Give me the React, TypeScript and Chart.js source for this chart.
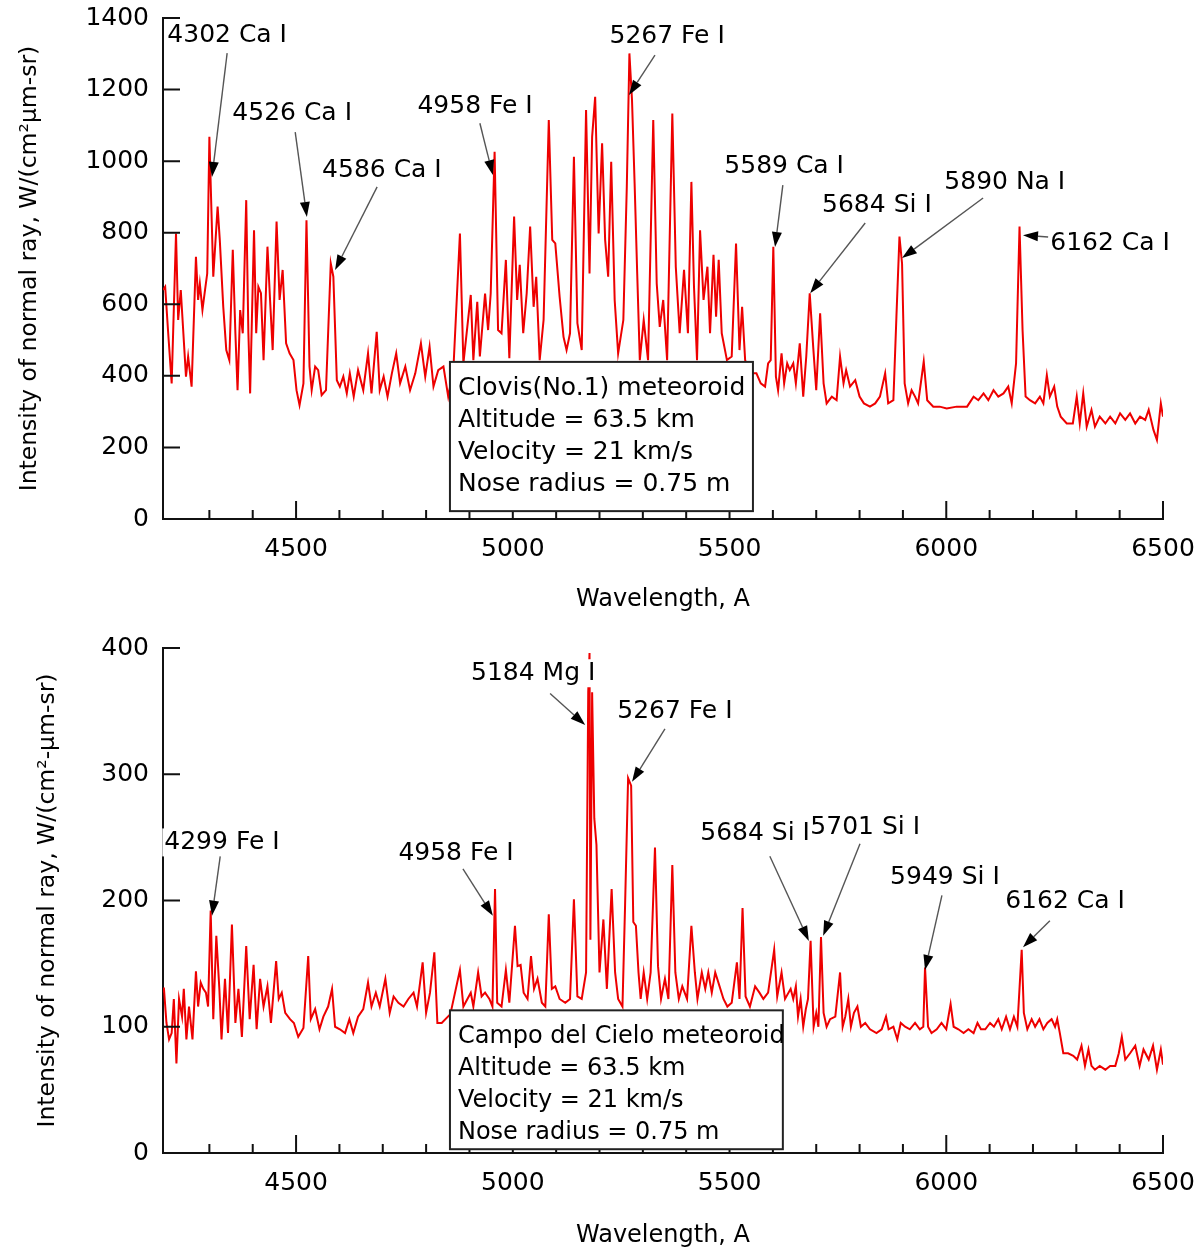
import React, { useEffect, useRef } from 'react';
import { Chart, registerables } from 'chart.js';

Chart.register(...registerables);

const FONT = '"DejaVu Sans", sans-serif';

// upper plot: Clovis (No.1) spectrum
const clovisWavelength = [
  4193, 4198, 4205, 4213, 4223, 4228, 4234, 4240, 4246, 4251, 4259, 4269, 4274, 4278, 4284, 4290,
  4295, 4300, 4309, 4319, 4324, 4332, 4339, 4346, 4354, 4360, 4365, 4371, 4377, 4385, 4390, 4394,
  4403, 4408, 4413, 4419, 4425, 4434, 4440, 4446, 4455, 4462, 4469, 4477, 4485, 4494, 4501, 4508,
  4517, 4524, 4531, 4536, 4544, 4551, 4559, 4569, 4580, 4586, 4594, 4601, 4609, 4617, 4624, 4633,
  4643, 4655, 4666, 4674, 4686, 4693, 4702, 4711, 4721, 4731, 4740, 4752, 4763, 4775, 4788, 4798,
  4808, 4817, 4828, 4840, 4851, 4863, 4878, 4886, 4903, 4909, 4918, 4924, 4936, 4943, 4949, 4958,
  4966, 4974, 4984, 4992, 5003, 5010, 5016, 5024, 5032, 5040, 5048, 5054, 5062, 5071, 5083, 5091,
  5098, 5108, 5117, 5124, 5132, 5141, 5149, 5159, 5169, 5177, 5183, 5190, 5198, 5206, 5213, 5220,
  5227, 5235, 5243, 5255, 5263, 5269, 5275, 5281, 5287, 5293, 5302, 5312, 5324, 5332, 5339, 5347,
  5356, 5368, 5376, 5385, 5395, 5404, 5412, 5418, 5425, 5432, 5440, 5449, 5455, 5463, 5469, 5475,
  5482, 5494, 5505, 5515, 5523, 5529, 5536, 5547, 5562, 5572, 5582, 5589, 5595, 5601, 5607, 5612,
  5620, 5626, 5633, 5639, 5647, 5653, 5662, 5670, 5677, 5685, 5693, 5700, 5709, 5717, 5724, 5736,
  5747, 5755, 5763, 5769, 5778, 5790, 5800, 5810, 5824, 5836, 5847, 5859, 5866, 5878, 5885, 5892,
  5898, 5904, 5912, 5920, 5928, 5935, 5948, 5956, 5970, 5985, 6001, 6024, 6048, 6063, 6074, 6086,
  6097, 6109, 6120, 6132, 6143, 6151, 6161, 6169, 6176, 6183, 6193, 6205, 6216, 6224, 6232, 6239,
  6249, 6256, 6264, 6278, 6292, 6301, 6308, 6316, 6324, 6335, 6343, 6354, 6367, 6378, 6390, 6401,
  6413, 6424, 6436, 6447, 6459, 6467, 6478, 6486, 6495, 6500,
];
const clovisIntensity = [
  640, 649, 519, 379, 798, 556, 640, 519, 398, 454, 370, 733, 612, 658, 584, 640,
  686, 1068, 677, 873, 780, 593, 472, 444, 752, 519, 360, 584, 519, 891, 519, 351,
  807, 519, 649, 631, 444, 761, 612, 472, 831, 612, 696, 491, 463, 444, 360, 318,
  379, 835, 426, 360, 426, 416, 346, 360, 714, 677, 388, 370, 398, 351, 407, 342,
  416, 360, 463, 351, 523, 360, 398, 342, 407, 463, 379, 426, 360, 407, 491, 398,
  481, 370, 416, 426, 342, 420, 798, 435, 626, 444, 607, 454, 630, 528, 630, 1026,
  528, 519, 724, 449, 845, 612, 710, 519, 630, 817, 593, 677, 444, 556, 1115, 780,
  770, 621, 509, 472, 519, 1012, 547, 472, 1143, 686, 1068, 1180, 798, 1050, 780, 677,
  998, 612, 463, 556, 929, 1301, 1171, 938, 686, 444, 556, 444, 1115, 658, 537, 612,
  444, 1133, 705, 519, 696, 519, 942, 649, 444, 807, 612, 705, 519, 738, 565, 724,
  519, 444, 454, 770, 472, 593, 444, 407, 407, 379, 370, 435, 444, 761, 398, 360,
  463, 379, 435, 416, 435, 379, 491, 342, 454, 631, 481, 360, 575, 379, 323, 342,
  332, 454, 379, 416, 370, 388, 342, 323, 314, 323, 342, 407, 323, 332, 565, 789,
  714, 379, 323, 360, 342, 323, 440, 332, 314, 314, 309, 314, 314, 342, 332, 351,
  332, 360, 342, 351, 370, 323, 435, 817, 528, 342, 332, 323, 342, 323, 402, 342,
  370, 314, 286, 267, 267, 342, 267, 351, 258, 305, 258, 286, 267, 286, 267, 295,
  277, 295, 267, 286, 277, 305, 249, 221, 323, 286,
];

// lower plot: Campo del Cielo spectrum
const campoWavelength = [
  4193, 4195, 4201, 4207, 4213, 4218, 4224, 4230, 4237, 4241, 4247, 4253, 4261, 4269, 4274, 4280,
  4286, 4292, 4297, 4303, 4309, 4316, 4323, 4328, 4336, 4343, 4352, 4360, 4367, 4375, 4385, 4393,
  4402, 4409, 4417, 4425, 4434, 4442, 4454, 4460, 4467, 4475, 4486, 4495, 4505, 4517, 4528, 4534,
  4544, 4554, 4563, 4574, 4583, 4590, 4601, 4613, 4623, 4632, 4643, 4655, 4666, 4674, 4684, 4693,
  4706, 4716, 4725, 4736, 4748, 4759, 4771, 4779, 4792, 4800, 4809, 4819, 4826, 4836, 4856, 4878,
  4886, 4903, 4909, 4920, 4928, 4936, 4946, 4953, 4959, 4964, 4974, 4984, 4992, 5005, 5011, 5018,
  5025, 5034, 5042, 5049, 5057, 5067, 5075, 5083, 5090, 5098, 5108, 5121, 5132, 5141, 5149, 5159,
  5169, 5174, 5177, 5179, 5183, 5188, 5193, 5200, 5209, 5217, 5228, 5236, 5243, 5253, 5259, 5266,
  5273, 5278, 5284, 5290, 5295, 5302, 5310, 5318, 5328, 5335, 5342, 5351, 5359, 5368, 5375, 5383,
  5391, 5402, 5412, 5420, 5426, 5436, 5444, 5451, 5459, 5467, 5477, 5486, 5495, 5505, 5517, 5523,
  5530, 5537, 5547, 5559, 5569, 5578, 5589, 5603, 5610, 5620, 5628, 5641, 5647, 5653, 5658, 5664,
  5670, 5676, 5681, 5687, 5694, 5700, 5705, 5711, 5717, 5724, 5732, 5744, 5755, 5761, 5767, 5774,
  5780, 5787, 5795, 5803, 5813, 5824, 5839, 5851, 5861, 5867, 5878, 5887, 5895, 5905, 5916, 5928,
  5939, 5947, 5951, 5958, 5966, 5978, 5989, 6000, 6010, 6017, 6028, 6040, 6051, 6063, 6072, 6080,
  6090, 6101, 6110, 6120, 6128, 6138, 6147, 6156, 6164, 6174, 6179, 6187, 6197, 6205, 6215, 6224,
  6233, 6243, 6251, 6256, 6262, 6270, 6281, 6293, 6302, 6312, 6320, 6328, 6335, 6343, 6354, 6367,
  6378, 6390, 6398, 6405, 6413, 6424, 6436, 6446, 6455, 6467, 6477, 6486, 6495, 6500,
];
const campoIntensity = [
  128, 131, 103, 90, 95, 122, 71, 122, 108, 130, 90, 116, 90, 144, 116, 135,
  130, 127, 116, 192, 106, 172, 130, 90, 138, 95, 181, 103, 130, 92, 164, 106,
  149, 98, 138, 116, 132, 103, 152, 122, 127, 111, 106, 103, 92, 99, 156, 106,
  114, 98, 108, 116, 130, 100, 98, 95, 106, 95, 108, 114, 135, 116, 127, 116,
  138, 111, 124, 119, 116, 122, 127, 116, 151, 111, 127, 159, 103, 103, 110, 145,
  116, 127, 116, 143, 124, 127, 122, 116, 209, 119, 116, 145, 119, 180, 148, 149,
  127, 122, 156, 130, 138, 119, 116, 189, 130, 132, 122, 119, 122, 201, 124, 122,
  143, 365, 396, 169, 365, 265, 244, 143, 185, 130, 209, 143, 122, 116, 196, 297,
  291, 183, 180, 143, 122, 143, 122, 143, 242, 148, 122, 138, 122, 228, 143, 122,
  132, 122, 180, 143, 122, 143, 130, 143, 127, 143, 132, 122, 116, 119, 151, 122,
  194, 124, 116, 132, 127, 122, 127, 161, 124, 143, 122, 130, 122, 132, 108, 122,
  100, 114, 122, 168, 100, 111, 100, 171, 111, 100, 106, 108, 143, 100, 108, 122,
  100, 111, 116, 100, 103, 98, 95, 98, 108, 98, 100, 90, 103, 100, 98, 103,
  98, 100, 147, 100, 95, 98, 103, 98, 118, 100, 98, 95, 98, 95, 103, 98,
  98, 103, 100, 106, 98, 108, 98, 108, 100, 161, 111, 98, 106, 100, 106, 98,
  103, 106, 100, 106, 95, 79, 79, 77, 74, 85, 69, 82, 69, 66, 69, 66,
  69, 69, 79, 92, 74, 79, 85, 69, 82, 74, 85, 66, 82, 70,
];

const wavelengthTicks = [4500, 5000, 5500, 6000, 6500];
const clovisTicks = [0, 200, 400, 600, 800, 1000, 1200, 1400];
const campoTicks = [0, 100, 200, 300, 400];

const clovisInfo = ['Clovis(No.1) meteoroid', 'Altitude = 63.5 km', 'Velocity = 21 km/s', 'Nose radius = 0.75 m'];
const campoInfo = ['Campo del Cielo meteoroid', 'Altitude = 63.5 km', 'Velocity = 21 km/s', 'Nose radius = 0.75 m'];

interface Callout {
  text: string;
  at: [number, number];
  from: [number, number];
  to: [number, number];
}

interface InfoBox {
  lines: string[];
  left: number;
  right: number;
  top: number;
  bottom: number;
  fontSize: number;
}

// label centre, arrow start and arrow tip, all in (wavelength, intensity)
const clovisCallouts: Callout[] = [
  { text: '4302 Ca I', at: [4341, 1350], from: [4341, 1302], to: [4306, 956] },
  { text: '4526 Ca I', at: [4491, 1132], from: [4498, 1081], to: [4525, 844] },
  { text: '4586 Ca I', at: [4698, 975], from: [4687, 928], to: [4590, 696] },
  { text: '4958 Fe I', at: [4913, 1154], from: [4924, 1106], to: [4954, 961] },
  { text: '5267 Fe I', at: [5356, 1347], from: [5328, 1296], to: [5268, 1185] },
  { text: '5589 Ca I', at: [5626, 986], from: [5623, 933], to: [5605, 760] },
  { text: '5684 Si I', at: [5840, 877], from: [5813, 827], to: [5686, 631] },
  { text: '5890 Na I', at: [6135, 939], from: [6085, 897], to: [5898, 729] },
  { text: '6162 Ca I', at: [6378, 771], from: [6235, 788], to: [6177, 793] },
];

const campoCallouts: Callout[] = [
  { text: '4299 Fe I', at: [4329, 246], from: [4325, 235], to: [4306, 188] },
  { text: '4958 Fe I', at: [4869, 237], from: [4885, 225], to: [4954, 188] },
  { text: '5184 Mg I', at: [5047, 380], from: [5086, 364], to: [5167, 339] },
  { text: '5267 Fe I', at: [5374, 350], from: [5351, 336], to: [5275, 294] },
  { text: '5684 Si I', at: [5559, 253], from: [5593, 235], to: [5683, 168] },
  { text: '5701 Si I', at: [5813, 258], from: [5801, 245], to: [5716, 172] },
  { text: '5949 Si I', at: [5997, 218], from: [5990, 204], to: [5951, 145] },
  { text: '6162 Ca I', at: [6274, 199], from: [6239, 184], to: [6177, 163] },
];

interface PanelProps {
  top: number;
  height: number;
  wavelength: number[];
  intensity: number[];
  yMax: number;
  yTicks: number[];
  yTitle: string;
  callouts: Callout[];
  info: InfoBox;
  padTop: number;
  xAxisHeight: number;
  yTitlePad: number;
  xTitlePad: number;
}

const makeDecor = (p: PanelProps) => ({
  id: 'spectrumDecor',
  afterDatasetsDraw(chart: Chart) {
    const { ctx, chartArea: area } = chart;
    const xs = chart.scales.x;
    const ys = chart.scales.y;
    ctx.save();

    // tick marks point into the plot
    ctx.strokeStyle = '#111';
    ctx.lineWidth = 2;
    ctx.beginPath();
    for (let w = 4300; w <= 6500; w += 100) {
      const px = xs.getPixelForValue(w);
      const len = w % 500 === 0 ? 18 : 9;
      ctx.moveTo(px, area.bottom);
      ctx.lineTo(px, area.bottom - len);
    }
    p.yTicks.forEach((v) => {
      const py = ys.getPixelForValue(v);
      ctx.moveTo(area.left, py);
      ctx.lineTo(area.left + 17, py);
    });
    ctx.stroke();

    // parameter box
    const bx0 = xs.getPixelForValue(p.info.left);
    const bx1 = xs.getPixelForValue(p.info.right);
    const by0 = ys.getPixelForValue(p.info.top);
    const by1 = ys.getPixelForValue(p.info.bottom);
    ctx.fillStyle = '#fff';
    ctx.fillRect(bx0, by0, bx1 - bx0, by1 - by0);
    ctx.strokeStyle = '#222';
    ctx.lineWidth = 2;
    ctx.strokeRect(bx0, by0, bx1 - bx0, by1 - by0);
    ctx.fillStyle = '#000';
    ctx.font = `${p.info.fontSize}px ${FONT}`;
    ctx.textAlign = 'left';
    ctx.textBaseline = 'alphabetic';
    p.info.lines.forEach((t, i) => ctx.fillText(t, bx0 + 8, by0 + 33 + i * 32));

    // line labels with arrows
    p.callouts.forEach((c) => {
      const lx = xs.getPixelForValue(c.at[0]);
      const ly = ys.getPixelForValue(c.at[1]);
      ctx.font = `25px ${FONT}`;
      const w = ctx.measureText(c.text).width;
      ctx.fillStyle = '#fff';
      ctx.fillRect(lx - w / 2 - 2, ly - 14, w + 4, 28);
      ctx.fillStyle = '#000';
      ctx.textAlign = 'center';
      ctx.textBaseline = 'middle';
      ctx.fillText(c.text, lx, ly);

      const fx = xs.getPixelForValue(c.from[0]);
      const fy = ys.getPixelForValue(c.from[1]);
      const tx = xs.getPixelForValue(c.to[0]);
      const ty = ys.getPixelForValue(c.to[1]);
      const ang = Math.atan2(ty - fy, tx - fx);
      const cos = Math.cos(ang);
      const sin = Math.sin(ang);
      const hl = 15;
      const hw = 5;
      const hx = tx - hl * cos;
      const hy = ty - hl * sin;
      ctx.strokeStyle = '#555';
      ctx.lineWidth = 1.4;
      ctx.beginPath();
      ctx.moveTo(fx, fy);
      ctx.lineTo(hx, hy);
      ctx.stroke();
      ctx.fillStyle = '#000';
      ctx.beginPath();
      ctx.moveTo(tx, ty);
      ctx.lineTo(hx - hw * sin, hy + hw * cos);
      ctx.lineTo(hx + hw * sin, hy - hw * cos);
      ctx.closePath();
      ctx.fill();
    });

    ctx.restore();
  },
});

const SpectrumPanel: React.FC<PanelProps> = (p) => {
  const canvasRef = useRef<HTMLCanvasElement>(null);

  useEffect(() => {
    if (!canvasRef.current) return;
    const chart = new Chart(canvasRef.current, {
      type: 'line',
      data: {
        datasets: [
          {
            data: p.wavelength.map((w, i) => ({ x: w, y: p.intensity[i] })),
            borderColor: '#ee0000',
            borderWidth: 2,
            pointRadius: 0,
            tension: 0,
          },
        ],
      },
      options: {
        animation: false,
        responsive: true,
        maintainAspectRatio: false,
        layout: { padding: { top: p.padTop, right: 37, left: 0, bottom: 0 } },
        plugins: { legend: { display: false }, tooltip: { enabled: false } },
        scales: {
          x: {
            type: 'linear',
            min: 4193,
            max: 6500,
            grid: { display: false, drawTicks: false },
            border: { display: true, color: '#111', width: 2 },
            ticks: {
              color: '#000',
              font: { family: FONT, size: 25 },
              padding: 15,
              maxRotation: 0,
              autoSkip: false,
              callback: (v: any) => String(v),
            },
            afterBuildTicks: (s: any) => {
              s.ticks = wavelengthTicks.map((value) => ({ value }));
            },
            afterFit: (s: any) => {
              s.height = p.xAxisHeight;
              s.paddingLeft = 0;
              s.paddingRight = 0;
            },
            title: {
              display: true,
              text: 'Wavelength, A',
              color: '#000',
              font: { family: FONT, size: 24 },
              padding: { top: 0, bottom: p.xTitlePad },
            },
          },
          y: {
            type: 'linear',
            min: 0,
            max: p.yMax,
            grid: { display: false, drawTicks: false },
            border: { display: true, color: '#111', width: 2 },
            ticks: {
              color: '#000',
              font: { family: FONT, size: 25 },
              padding: 14,
              autoSkip: false,
              callback: (v: any) => String(v),
            },
            afterBuildTicks: (s: any) => {
              s.ticks = p.yTicks.map((value) => ({ value }));
            },
            afterFit: (s: any) => {
              s.width = 163;
              s.paddingTop = 0;
              s.paddingBottom = 0;
            },
            title: {
              display: true,
              text: p.yTitle,
              color: '#000',
              font: { family: FONT, size: 23.5 },
              padding: { top: p.yTitlePad, bottom: 0 },
            },
          },
        },
      },
      plugins: [makeDecor(p)],
    });
    return () => {
      chart.destroy();
    };
  }, []);

  return (
    <div style={{ position: 'absolute', left: 0, top: p.top, width: 1200, height: p.height }}>
      <canvas ref={canvasRef} />
    </div>
  );
};

const App: React.FC = () => (
  <div style={{ position: 'absolute', left: 0, top: 0, width: 1200, height: 1253, background: '#fff' }}>
    <SpectrumPanel
      top={0}
      height={625}
      wavelength={clovisWavelength}
      intensity={clovisIntensity}
      yMax={1400}
      yTicks={clovisTicks}
      yTitle="Intensity of normal ray, W/(cm²μm-sr)"
      callouts={clovisCallouts}
      info={{ lines: clovisInfo, left: 4855, right: 5554, top: 439, bottom: 22, fontSize: 25 }}
      padTop={18}
      xAxisHeight={106}
      yTitlePad={16}
      xTitlePad={11}
    />
    <SpectrumPanel
      top={625}
      height={628}
      wavelength={campoWavelength}
      intensity={campoIntensity}
      yMax={400}
      yTicks={campoTicks}
      yTitle="Intensity of normal ray, W/(cm²-μm-sr)"
      callouts={campoCallouts}
      info={{ lines: campoInfo, left: 4855, right: 5623, top: 113, bottom: 3, fontSize: 24 }}
      padTop={23}
      xAxisHeight={100}
      yTitlePad={34}
      xTitlePad={3}
    />
  </div>
);

export default App;
